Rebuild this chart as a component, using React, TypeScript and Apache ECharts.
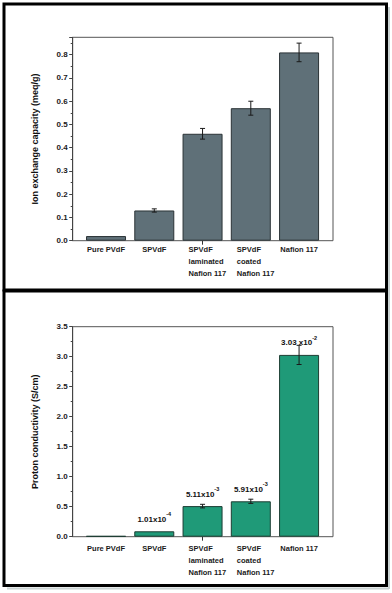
import React, { useEffect, useRef } from "react";
import * as echarts from "echarts";

const categories = [
  "Pure PVdF",
  "SPVdF",
  "SPVdF\nlaminated\nNafion 117",
  "SPVdF\ncoated\nNafion 117",
  "Nafion 117",
];
const iecValues = [0.02, 0.13, 0.46, 0.57, 0.81];
const iecErrors = [0, 0.007, 0.023, 0.03, 0.04];
const condValues = [0.012, 0.09, 0.51, 0.59, 3.03];
const condErrors = [0, 0, 0.03, 0.035, 0.16];
const condLabelBase = ["", "1.01x10", "5.11x10", "5.91x10", "3.03 x10"];
const condLabelExp = ["", "-4", "-3", "-3", "-2"];
const iecAxis = { min: 0, max: 0.875, interval: 0.1 };
const condAxis = { min: 0, max: 3.5, interval: 0.5 };

const FONT = "Liberation Sans, Arial, sans-serif";

function errorRender(params: any, api: any) {
  const x = api.value(0);
  const v = api.value(1);
  const e = api.value(2);
  if (!e) return null;
  const hi = api.coord([x, v + e]);
  const lo = api.coord([x, v - e]);
  const w = 2.5;
  const st = { stroke: "#1a1a1a", lineWidth: 1 };
  return {
    type: "group",
    children: [
      { type: "line", shape: { x1: hi[0], y1: hi[1], x2: lo[0], y2: lo[1] }, style: st },
      { type: "line", shape: { x1: hi[0] - w, y1: hi[1], x2: hi[0] + w, y2: hi[1] }, style: st },
      { type: "line", shape: { x1: lo[0] - w, y1: lo[1], x2: lo[0] + w, y2: lo[1] }, style: st },
    ],
  };
}

function frameY(gridIndex: number, ax: any, name: string) {
  const rem = ax.max / ax.interval - Math.round(ax.max / ax.interval);
  return {
    gridIndex,
    type: "value",
    min: ax.min,
    max: ax.max,
    interval: ax.interval,
    axisLine: { show: true, lineStyle: { color: "#444", width: 1 } },
    axisTick: { show: true, inside: false, length: 3.5, lineStyle: { color: "#444" } },
    minorTick: { show: true, splitNumber: 2, length: 2, lineStyle: { color: "#444" } },
    splitLine: { show: false },
    axisLabel: {
      fontSize: 8,
      fontWeight: "bold",
      fontFamily: FONT,
      color: "#1a1a1a",
      margin: 5,
      showMaxLabel: Math.abs(rem) < 1e-6,
      formatter: (v: number) => v.toFixed(1),
    },
    name,
    nameLocation: "middle",
    nameGap: 33,
    nameTextStyle: { fontSize: 9, fontWeight: "bold", fontFamily: FONT, color: "#111" },
  };
}

function hiddenY(gridIndex: number, ax: any) {
  return { gridIndex, type: "value", min: ax.min, max: ax.max, show: false };
}

function barX(gridIndex: number, margin: number) {
  return {
    gridIndex,
    type: "category",
    data: categories.map((c) =>
      c.indexOf("\n") >= 0
        ? { value: c, textStyle: { align: "left", padding: [0, 0, 0, -14] } }
        : c
    ),
    axisLine: { show: false },
    axisTick: {
      show: true,
      alignWithLabel: true,
      length: 4,
      interval: (i: number) => i === 2,
      lineStyle: { color: "#333" },
    },
    axisLabel: {
      interval: 0,
      fontSize: 7.5,
      fontWeight: "bold",
      fontFamily: FONT,
      color: "#1a1a1a",
      lineHeight: 12,
      margin,
    },
  };
}

export default function App() {
  const ref = useRef<HTMLDivElement>(null);
  useEffect(() => {
    if (!ref.current) return;
    const chart = echarts.init(ref.current, undefined, { renderer: "svg" });
    const frameLeft = 72.7;
    const frameWidth = 260.3;
    const barLeft = 81.9;
    const barWidthGrid = 241.3;
    const g1 = { top: 37.3, height: 203.4 };
    const g2 = { top: 326.7, height: 210 };
    const frameGrid = (g: any) => ({
      left: frameLeft,
      top: g.top,
      width: frameWidth,
      height: g.height,
      show: true,
      borderColor: "#555",
      borderWidth: 1,
      backgroundColor: "transparent",
    });
    const barGrid = (g: any) => ({ left: barLeft, top: g.top, width: barWidthGrid, height: g.height });
    const shadow = { stroke: "#c9d2d2", lineWidth: 2 };

    chart.setOption({
      animation: false,
      backgroundColor: "#ffffff",
      grid: [frameGrid(g1), barGrid(g1), frameGrid(g2), barGrid(g2)],
      xAxis: [
        { gridIndex: 0, type: "value", show: false },
        barX(1, 3),
        { gridIndex: 2, type: "value", show: false },
        barX(3, 6),
      ],
      yAxis: [
        frameY(0, iecAxis, "Ion exchange capacity (meq/g)"),
        hiddenY(1, iecAxis),
        frameY(2, condAxis, "Proton conductivity (S/cm)"),
        hiddenY(3, condAxis),
      ],
      graphic: [
        { type: "line", shape: { x1: 389, y1: 7, x2: 389, y2: 589 }, style: shadow, silent: true },
        { type: "line", shape: { x1: 7, y1: 588.5, x2: 389, y2: 588.5 }, style: shadow, silent: true },
        {
          type: "rect",
          shape: { x: 4, y: 4, width: 382.5, height: 286 },
          style: { fill: "none", stroke: "#000", lineWidth: 3 },
          silent: true,
        },
        {
          type: "rect",
          shape: { x: 4, y: 291, width: 382.5, height: 294.5 },
          style: { fill: "none", stroke: "#000", lineWidth: 3 },
          silent: true,
        },
      ],
      series: [
        {
          type: "bar",
          xAxisIndex: 1,
          yAxisIndex: 1,
          barWidth: 40,
          data: iecValues,
          itemStyle: { color: "#5f7078", borderColor: "#2b3336", borderWidth: 1 },
          z: 2,
        },
        {
          type: "custom",
          xAxisIndex: 1,
          yAxisIndex: 1,
          data: iecValues.map((v, i) => [i, v, iecErrors[i]]),
          renderItem: errorRender,
          z: 3,
        },
        {
          type: "bar",
          xAxisIndex: 3,
          yAxisIndex: 3,
          barWidth: 40,
          data: condValues,
          itemStyle: { color: "#1f9a78", borderColor: "#1d3d33", borderWidth: 1 },
          z: 2,
          label: {
            show: true,
            position: "top",
            distance: 8,
            formatter: (p: any) =>
              condLabelBase[p.dataIndex]
                ? `{b|${condLabelBase[p.dataIndex]}}{s|${condLabelExp[p.dataIndex]}}`
                : "",
            rich: {
              b: { fontSize: 8, fontWeight: "bold", fontFamily: FONT, color: "#111", lineHeight: 12, verticalAlign: "bottom" },
              s: { fontSize: 5.5, fontWeight: "bold", fontFamily: FONT, color: "#111", lineHeight: 12, verticalAlign: "top" },
            },
          },
        },
        {
          type: "custom",
          xAxisIndex: 3,
          yAxisIndex: 3,
          data: condValues.map((v, i) => [i, v, condErrors[i]]),
          renderItem: errorRender,
          z: 3,
        },
      ],
    });
    return () => chart.dispose();
  }, []);
  return (
    <div
      ref={ref}
      style={{ position: "absolute", left: 0, top: 0, width: 392, height: 593 }}
    />
  );
}
